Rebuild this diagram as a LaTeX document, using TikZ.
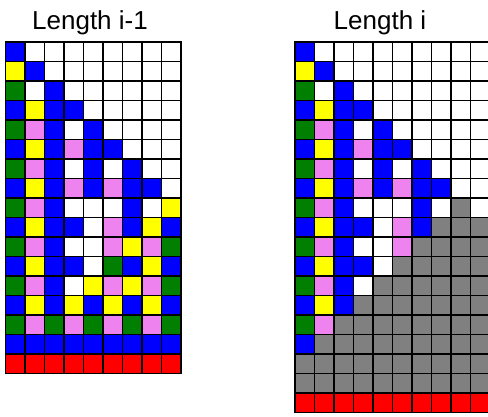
\documentclass[tikz,border=0pt]{standalone}
\usepackage{fontspec}
\setmainfont{Liberation Sans}
\usepackage{xcolor}
\usepackage{tikz}
\definecolor{CellB}{HTML}{0000FF}
\definecolor{CellY}{HTML}{FFFF00}
\definecolor{CellG}{HTML}{007F00}
\definecolor{CellP}{HTML}{EE82EE}
\definecolor{CellW}{HTML}{FFFFFF}
\definecolor{CellR}{HTML}{FF0000}
\definecolor{CellX}{HTML}{808080}

\begin{document}
\begin{tikzpicture}[x=1pt,y=1pt,
    cell/.style={draw=black,line width=1.9pt},
    title/.style={anchor=base,font=\fontsize{26}{30}\selectfont}]
    \def\cw{19.5}

    % Page frame.
    \useasboundingbox (0,0) rectangle (488,416);
    \clip (0,0) rectangle (488,416);
    \fill[white] (0,0) rectangle (488,416);

    % Titles.
    \node[title] (prevTitle) at (90,386.5) {Length i-1};
    \node[title] (curTitle) at (380,386.5) {Length i};

    % Grid for length i-1.
    \foreach \row [count=\r from 0] in {
      {B,W,W,W,W,W,W,W,W},
      {Y,B,W,W,W,W,W,W,W},
      {G,W,B,W,W,W,W,W,W},
      {B,Y,B,B,W,W,W,W,W},
      {G,P,B,W,B,W,W,W,W},
      {B,Y,B,P,B,B,W,W,W},
      {G,P,B,W,B,W,B,W,W},
      {B,Y,B,P,B,P,B,B,W},
      {G,P,B,W,W,W,B,W,Y},
      {B,Y,B,B,W,P,B,Y,B},
      {G,P,B,W,W,P,Y,P,G},
      {B,Y,B,B,W,G,B,Y,B},
      {G,P,B,W,Y,P,Y,P,G},
      {B,Y,B,Y,B,Y,B,Y,B},
      {G,P,G,P,G,P,G,P,G},
      {B,B,B,B,B,B,B,B,B},
      {R,R,R,R,R,R,R,R,R}}{
      \foreach \c [count=\k from 0] in \row
        \filldraw[cell,fill=Cell\c] ({5.5+\k*\cw},{374-\r*\cw})
          rectangle ++(\cw,-\cw);
    }

    % Grid for length i, grey cells filled in.
    \foreach \row [count=\r from 0] in {
      {B,W,W,W,W,W,W,W,W,W},
      {Y,B,W,W,W,W,W,W,W,W},
      {G,W,B,W,W,W,W,W,W,W},
      {B,Y,B,B,W,W,W,W,W,W},
      {G,P,B,W,B,W,W,W,W,W},
      {B,Y,B,P,B,B,W,W,W,W},
      {G,P,B,W,B,W,B,W,W,W},
      {B,Y,B,P,B,P,B,B,W,W},
      {G,P,B,W,W,W,B,W,X,W},
      {B,Y,B,B,W,P,B,X,X,X},
      {G,P,B,W,W,P,X,X,X,X},
      {B,Y,B,B,W,X,X,X,X,X},
      {G,P,B,W,X,X,X,X,X,X},
      {B,Y,B,X,X,X,X,X,X,X},
      {G,P,X,X,X,X,X,X,X,X},
      {B,X,X,X,X,X,X,X,X,X},
      {X,X,X,X,X,X,X,X,X,X},
      {X,X,X,X,X,X,X,X,X,X},
      {R,R,R,R,R,R,R,R,R,R}}{
      \foreach \c [count=\k from 0] in \row
        \filldraw[cell,fill=Cell\c] ({295+\k*\cw},{374-\r*\cw})
          rectangle ++(\cw,-\cw);
    }
  \end{tikzpicture}
\end{document}
